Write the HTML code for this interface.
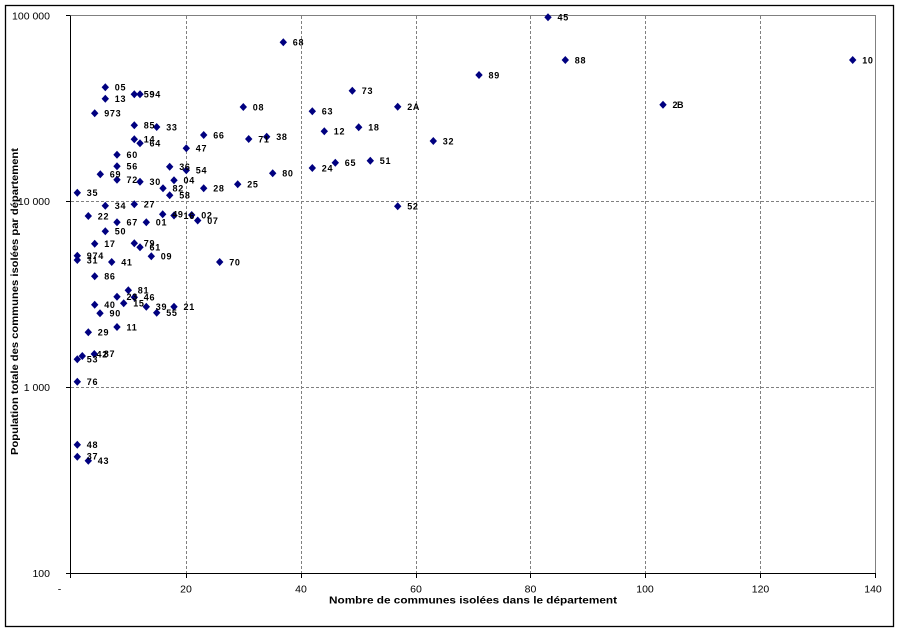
<!DOCTYPE html>
<html>
<head>
<meta charset="utf-8">
<style>
  html,body{margin:0;padding:0;background:#fff;}
  svg{display:block;}
  .tick{font-family:"Liberation Sans",Arial,sans-serif;font-size:10.5px;fill:#000;}
  .ttl{font-family:"Liberation Sans",Arial,sans-serif;font-size:10.5px;font-weight:bold;fill:#000;}
  .lbl{font-family:"Liberation Sans",Arial,sans-serif;font-size:9px;font-weight:bold;fill:#000;letter-spacing:0.7px;}
</style>
</head>
<body>
<svg width="899" height="630" viewBox="0 0 899 630" xmlns="http://www.w3.org/2000/svg">
  <rect x="0" y="0" width="899" height="630" fill="#fff"/>
  <!-- outer border -->
  <rect x="5.5" y="5.5" width="888" height="621" fill="none" stroke="#000" stroke-width="1.3"/>

  <!-- gridlines -->
  <g stroke="#808080" stroke-width="1" stroke-dasharray="3,2" fill="none">
    <line x1="186.5" y1="16" x2="186.5" y2="573"/>
    <line x1="301.5" y1="16" x2="301.5" y2="573"/>
    <line x1="416.5" y1="16" x2="416.5" y2="573"/>
    <line x1="530.5" y1="16" x2="530.5" y2="573"/>
    <line x1="645.5" y1="16" x2="645.5" y2="573"/>
    <line x1="760.5" y1="16" x2="760.5" y2="573"/>
    <line x1="71" y1="201.5" x2="875" y2="201.5"/>
    <line x1="71" y1="387.5" x2="875" y2="387.5"/>
  </g>
  <!-- plot border top/right -->
  <g stroke="#808080" stroke-width="1" fill="none">
    <line x1="70" y1="15.5" x2="876" y2="15.5"/>
    <line x1="875.5" y1="15.5" x2="875.5" y2="573"/>
  </g>
  <!-- axes -->
  <g stroke="#000" stroke-width="1" fill="none">
    <line x1="70.5" y1="15.5" x2="70.5" y2="573.5"/>
    <line x1="70" y1="573.5" x2="876" y2="573.5"/>
    <!-- y ticks -->
    <line x1="66" y1="15.5" x2="70" y2="15.5"/>
    <line x1="66" y1="201.5" x2="70" y2="201.5"/>
    <line x1="66" y1="387.5" x2="70" y2="387.5"/>
    <line x1="66" y1="573.5" x2="70" y2="573.5"/>
    <!-- x ticks -->
    <line x1="70.5" y1="573" x2="70.5" y2="578"/>
    <line x1="186.5" y1="573" x2="186.5" y2="578"/>
    <line x1="301.5" y1="573" x2="301.5" y2="578"/>
    <line x1="416.5" y1="573" x2="416.5" y2="578"/>
    <line x1="530.5" y1="573" x2="530.5" y2="578"/>
    <line x1="645.5" y1="573" x2="645.5" y2="578"/>
    <line x1="760.5" y1="573" x2="760.5" y2="578"/>
    <line x1="875.5" y1="573" x2="875.5" y2="578"/>
  </g>

  <!-- y tick labels -->
  <g class="tick" text-anchor="end">
    <text x="50" y="19.3">100 000</text>
    <text x="50" y="205">10 000</text>
    <text x="50" y="391">1 000</text>
    <text x="50" y="577">100</text>
  </g>
  <!-- x tick labels -->
  <g class="tick" text-anchor="middle">
    <text x="59.5" y="592.5">-</text>
    <text x="186" y="592.5">20</text>
    <text x="301" y="592.5">40</text>
    <text x="416" y="592.5">60</text>
    <text x="530.5" y="592.5">80</text>
    <text x="645" y="592.5">100</text>
    <text x="760.5" y="592.5">120</text>
    <text x="873" y="592.5">140</text>
  </g>

  <!-- axis titles -->
  <text class="ttl" x="329" y="603.5" textLength="288" lengthAdjust="spacingAndGlyphs">Nombre de communes isolées dans le département</text>
  <text class="ttl" transform="translate(18,301.5) rotate(-90)" text-anchor="middle" textLength="307" lengthAdjust="spacingAndGlyphs">Population totale des communes isolées par département</text>

  <!-- markers -->
  <g fill="#000080">
    <path d="M283.3 38.3L287 42.3L283.3 46.3L279.6 42.3Z"/>
    <path d="M105.3 83.3L109 87.3L105.3 91.3L101.6 87.3Z"/>
    <path d="M105.3 94.7L109 98.7L105.3 102.7L101.6 98.7Z"/>
    <path d="M134.3 90.3L138 94.3L134.3 98.3L130.6 94.3Z"/>
    <path d="M140 90.3L143.7 94.3L140 98.3L136.3 94.3Z"/>
    <path d="M94.7 109.3L98.4 113.3L94.7 117.3L91 113.3Z"/>
    <path d="M134.3 121.3L138 125.3L134.3 129.3L130.6 125.3Z"/>
    <path d="M156.7 123L160.4 127L156.7 131L153 127Z"/>
    <path d="M134.3 135.3L138 139.3L134.3 143.3L130.6 139.3Z"/>
    <path d="M140 139.3L143.7 143.3L140 147.3L136.3 143.3Z"/>
    <path d="M117 150.7L120.7 154.7L117 158.7L113.3 154.7Z"/>
    <path d="M186.3 144.3L190 148.3L186.3 152.3L182.6 148.3Z"/>
    <path d="M203.7 131L207.4 135L203.7 139L200 135Z"/>
    <path d="M243.3 103L247 107L243.3 111L239.6 107Z"/>
    <path d="M248.7 135L252.4 139L248.7 143L245 139Z"/>
    <path d="M266.7 132.7L270.4 136.7L266.7 140.7L263 136.7Z"/>
    <path d="M117 162.3L120.7 166.3L117 170.3L113.3 166.3Z"/>
    <path d="M169.7 162.7L173.4 166.7L169.7 170.7L166 166.7Z"/>
    <path d="M186.3 166.3L190 170.3L186.3 174.3L182.6 170.3Z"/>
    <path d="M272.7 169.3L276.4 173.3L272.7 177.3L269 173.3Z"/>
    <path d="M100.3 170.3L104 174.3L100.3 178.3L96.6 174.3Z"/>
    <path d="M117 175.7L120.7 179.7L117 183.7L113.3 179.7Z"/>
    <path d="M140 177.7L143.7 181.7L140 185.7L136.3 181.7Z"/>
    <path d="M174 176.3L177.7 180.3L174 184.3L170.3 180.3Z"/>
    <path d="M163 184.3L166.7 188.3L163 192.3L159.3 188.3Z"/>
    <path d="M169.7 191.3L173.4 195.3L169.7 199.3L166 195.3Z"/>
    <path d="M203.7 184.3L207.4 188.3L203.7 192.3L200 188.3Z"/>
    <path d="M237.7 180.3L241.4 184.3L237.7 188.3L234 184.3Z"/>
    <path d="M77.3 188.7L81 192.7L77.3 196.7L73.6 192.7Z"/>
    <path d="M105.3 201.7L109 205.7L105.3 209.7L101.6 205.7Z"/>
    <path d="M134.3 200.3L138 204.3L134.3 208.3L130.6 204.3Z"/>
    <path d="M88.3 212L92 216L88.3 220L84.6 216Z"/>
    <path d="M162.7 210.3L166.4 214.3L162.7 218.3L159 214.3Z"/>
    <path d="M174 211.5L177.7 215.5L174 219.5L170.3 215.5Z"/>
    <path d="M191.7 211L195.4 215L191.7 219L188 215Z"/>
    <path d="M197.7 216.5L201.4 220.5L197.7 224.5L194 220.5Z"/>
    <path d="M117 218.3L120.7 222.3L117 226.3L113.3 222.3Z"/>
    <path d="M146.3 218.3L150 222.3L146.3 226.3L142.6 222.3Z"/>
    <path d="M105.3 227.3L109 231.3L105.3 235.3L101.6 231.3Z"/>
    <path d="M94.7 239.7L98.4 243.7L94.7 247.7L91 243.7Z"/>
    <path d="M134.3 239.3L138 243.3L134.3 247.3L130.6 243.3Z"/>
    <path d="M140 243.3L143.7 247.3L140 251.3L136.3 247.3Z"/>
    <path d="M77.3 251.7L81 255.7L77.3 259.7L73.6 255.7Z"/>
    <path d="M77.3 256L81 260L77.3 264L73.6 260Z"/>
    <path d="M111.7 258L115.4 262L111.7 266L108 262Z"/>
    <path d="M151.3 252.3L155 256.3L151.3 260.3L147.6 256.3Z"/>
    <path d="M219.7 258L223.4 262L219.7 266L216 262Z"/>
    <path d="M94.7 272.3L98.4 276.3L94.7 280.3L91 276.3Z"/>
    <path d="M128.3 286.3L132 290.3L128.3 294.3L124.6 290.3Z"/>
    <path d="M117 292.7L120.7 296.7L117 300.7L113.3 296.7Z"/>
    <path d="M134.3 293.3L138 297.3L134.3 301.3L130.6 297.3Z"/>
    <path d="M123.7 299.3L127.4 303.3L123.7 307.3L120 303.3Z"/>
    <path d="M94.7 300.7L98.4 304.7L94.7 308.7L91 304.7Z"/>
    <path d="M146.3 302.7L150 306.7L146.3 310.7L142.6 306.7Z"/>
    <path d="M156.7 308.7L160.4 312.7L156.7 316.7L153 312.7Z"/>
    <path d="M174 302.7L177.7 306.7L174 310.7L170.3 306.7Z"/>
    <path d="M100 309.3L103.7 313.3L100 317.3L96.3 313.3Z"/>
    <path d="M117 323L120.7 327L117 331L113.3 327Z"/>
    <path d="M88.3 328.3L92 332.3L88.3 336.3L84.6 332.3Z"/>
    <path d="M77.3 355.3L81 359.3L77.3 363.3L73.6 359.3Z"/>
    <path d="M82.3 352L86 356L82.3 360L78.6 356Z"/>
    <path d="M94.3 350L98 354L94.3 358L90.6 354Z"/>
    <path d="M77.3 377.7L81 381.7L77.3 385.7L73.6 381.7Z"/>
    <path d="M77.3 440.7L81 444.7L77.3 448.7L73.6 444.7Z"/>
    <path d="M77.3 452.7L81 456.7L77.3 460.7L73.6 456.7Z"/>
    <path d="M88.3 456.7L92 460.7L88.3 464.7L84.6 460.7Z"/>
    <path d="M352.3 86.7L356 90.7L352.3 94.7L348.6 90.7Z"/>
    <path d="M312.3 107.3L316 111.3L312.3 115.3L308.6 111.3Z"/>
    <path d="M397.7 102.7L401.4 106.7L397.7 110.7L394 106.7Z"/>
    <path d="M324.3 127.3L328 131.3L324.3 135.3L320.6 131.3Z"/>
    <path d="M358.7 123.3L362.4 127.3L358.7 131.3L355 127.3Z"/>
    <path d="M433.3 137L437 141L433.3 145L429.6 141Z"/>
    <path d="M312.3 164L316 168L312.3 172L308.6 168Z"/>
    <path d="M335.3 158.7L339 162.7L335.3 166.7L331.6 162.7Z"/>
    <path d="M370.3 156.7L374 160.7L370.3 164.7L366.6 160.7Z"/>
    <path d="M397.7 202.3L401.4 206.3L397.7 210.3L394 206.3Z"/>
    <path d="M548 13.3L551.7 17.3L548 21.3L544.3 17.3Z"/>
    <path d="M565.3 56L569 60L565.3 64L561.6 60Z"/>
    <path d="M479 71L482.7 75L479 79L475.3 75Z"/>
    <path d="M663 100.7L666.7 104.7L663 108.7L659.3 104.7Z"/>
    <path d="M852.7 56L856.4 60L852.7 64L849 60Z"/>
  </g>

  <!-- data labels -->
  <g class="lbl">
    <text x="292.8" y="45.6">68</text>
    <text x="114.8" y="90.6">05</text>
    <text x="114.8" y="102">13</text>
    <text x="143.8" y="97.6">59</text>
    <text x="149.5" y="97.6">94</text>
    <text x="104.2" y="116.6">973</text>
    <text x="143.8" y="128.6">85</text>
    <text x="166.2" y="130.3">33</text>
    <text x="143.8" y="142.6">14</text>
    <text x="149.5" y="146.6">64</text>
    <text x="126.5" y="158">60</text>
    <text x="195.8" y="151.6">47</text>
    <text x="213.2" y="138.3">66</text>
    <text x="252.8" y="110.3">08</text>
    <text x="258.2" y="142.3">71</text>
    <text x="276.2" y="140">38</text>
    <text x="126.5" y="169.6">56</text>
    <text x="179.2" y="170">36</text>
    <text x="195.8" y="173.6">54</text>
    <text x="282.2" y="176.6">80</text>
    <text x="109.8" y="177.6">69</text>
    <text x="126.5" y="183">72</text>
    <text x="149.5" y="185">30</text>
    <text x="183.5" y="183.6">04</text>
    <text x="172.5" y="191.6">82</text>
    <text x="179.2" y="198.6">58</text>
    <text x="213.2" y="191.6">28</text>
    <text x="247.2" y="187.6">25</text>
    <text x="86.8" y="196">35</text>
    <text x="114.8" y="209">34</text>
    <text x="143.8" y="207.6">27</text>
    <text x="97.8" y="219.3">22</text>
    <text x="172.2" y="217.6">49</text>
    <text x="183.5" y="218.8">16</text>
    <text x="201.2" y="218.3">02</text>
    <text x="207.2" y="223.8">07</text>
    <text x="126.5" y="225.6">67</text>
    <text x="155.8" y="225.6">01</text>
    <text x="114.8" y="234.6">50</text>
    <text x="104.2" y="247">17</text>
    <text x="143.8" y="246.6">79</text>
    <text x="149.5" y="250.6">61</text>
    <text x="86.8" y="259">974</text>
    <text x="86.8" y="263.3">31</text>
    <text x="121.2" y="265.3">41</text>
    <text x="160.8" y="259.6">09</text>
    <text x="229.2" y="265.3">70</text>
    <text x="104.2" y="279.6">86</text>
    <text x="137.8" y="293.6">81</text>
    <text x="126.5" y="300">23</text>
    <text x="143.8" y="300.6">46</text>
    <text x="133.2" y="306.6">15</text>
    <text x="104.2" y="308">40</text>
    <text x="155.8" y="310">39</text>
    <text x="166.2" y="316">55</text>
    <text x="183.5" y="310">21</text>
    <text x="109.5" y="316.6">90</text>
    <text x="126.5" y="330.3">11</text>
    <text x="97.8" y="335.6">29</text>
    <text x="86.8" y="362.6">53</text>
    <text x="96.5" y="357.3">42</text>
    <text x="103.8" y="357">87</text>
    <text x="86.8" y="385">76</text>
    <text x="86.8" y="448">48</text>
    <text x="86.8" y="459.6">37</text>
    <text x="97.8" y="464">43</text>
    <text x="361.8" y="94">73</text>
    <text x="321.8" y="114.6">63</text>
    <text x="407.2" y="110">2A</text>
    <text x="333.8" y="134.6">12</text>
    <text x="368.2" y="130.6">18</text>
    <text x="442.8" y="144.3">32</text>
    <text x="321.8" y="171.3">24</text>
    <text x="344.8" y="166">65</text>
    <text x="379.8" y="164">51</text>
    <text x="407.2" y="209.6">52</text>
    <text x="557.5" y="20.6">45</text>
    <text x="574.8" y="63.3">88</text>
    <text x="488.5" y="78.3">89</text>
    <text x="672.5" y="108" letter-spacing="-0.5">2B</text>
    <text x="862.2" y="63.3">10</text>
  </g>
</svg>
</body>
</html>
